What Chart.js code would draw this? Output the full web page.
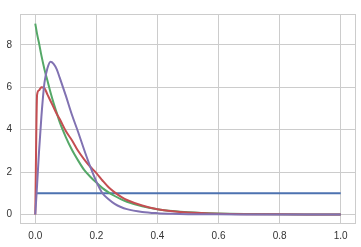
<!DOCTYPE html>
<html>
<head>
<meta charset="utf-8">
<script src="https://cdn.jsdelivr.net/npm/chart.js@4"></script>
<style>
  html, body { margin: 0; padding: 0; background: #fff; }
  canvas { display: block; }
</style>
</head>
<body>
<canvas id="chart" width="361" height="247"></canvas>
<script>
const xs = [0, 0.006, 0.012, 0.02, 0.03, 0.04, 0.05, 0.06, 0.07, 0.08, 0.1, 0.12, 0.14, 0.16, 0.18,
  0.2, 0.22, 0.24, 0.26, 0.28, 0.3, 0.35, 0.4, 0.45, 0.5, 0.6, 0.7, 0.8, 0.9, 1.0];

const blue = [1, 1, 1, 1, 1, 1, 1, 1, 1, 1, 1, 1, 1, 1, 1,
  1, 1, 1, 1, 1, 1, 1, 1, 1, 1, 1, 1, 1, 1, 1];
const green = [9.0, 8.5, 8.1, 7.5, 6.85, 6.3, 5.75, 5.25, 4.8, 4.35, 3.65, 3.05, 2.55, 2.1, 1.78,
  1.5, 1.24, 1.04, 0.87, 0.72, 0.6, 0.39, 0.25, 0.16, 0.1, 0.04, 0.017, 0.007, 0.003, 0.001];
const red = [0, 5.65, 5.85, 6.0, 5.95, 5.65, 5.35, 5.05, 4.75, 4.5, 3.93, 3.5, 3.0, 2.6, 2.25,
  1.95, 1.6, 1.28, 1.04, 0.84, 0.68, 0.42, 0.25, 0.15, 0.09, 0.035, 0.013, 0.005, 0.002, 0.001];
const purple = [0, 1.4, 2.9, 4.6, 6.2, 6.9, 7.2, 7.1, 6.85, 6.45, 5.6, 4.7, 3.9, 3.05, 2.25,
  1.55, 1.0, 0.72, 0.5, 0.35, 0.25, 0.12, 0.06, 0.03, 0.015, 0.004, 0.001, 0, 0, 0];

const xTicks = [0, 0.2, 0.4, 0.6, 0.8, 1.0];
const yTicks = [0, 2, 4, 6, 8];

const pts = ys => xs.map((x, i) => ({ x: x, y: ys[i] }));

const line = (data, color, order) => ({
  data: pts(data),
  borderColor: color,
  borderWidth: 2,
  pointRadius: 0,
  fill: false,
  cubicInterpolationMode: 'monotone',
  order: order
});

// light grey frame round the plot, like seaborn's whitegrid spines
const frame = {
  id: 'frame',
  beforeDatasetsDraw(chart) {
    const a = chart.chartArea, c = chart.ctx;
    c.save();
    c.strokeStyle = '#cccccc';
    c.lineWidth = 1;
    c.strokeRect(Math.round(a.left) + 0.5, Math.round(a.top) + 0.5,
      Math.round(a.right - a.left) - 1, Math.round(a.bottom - a.top) - 1);
    c.restore();
  }
};

const tickFont = { family: 'Liberation Sans, Arial, sans-serif', size: 10 };

new Chart(document.getElementById('chart').getContext('2d'), {
  type: 'line',
  data: {
    datasets: [
      line(blue, '#4c72b0', 4),
      line(green, '#55a868', 3),
      line(red, '#c44e52', 2),
      line(purple, '#8172b2', 1)
    ]
  },
  options: {
    responsive: false,
    animation: false,
    layout: { padding: { top: 6, right: 5, left: 0, bottom: 0 } },
    plugins: { legend: { display: false }, tooltip: { enabled: false } },
    scales: {
      x: {
        type: 'linear',
        min: -0.05,
        max: 1.05,
        afterBuildTicks: s => { s.ticks = xTicks.map(v => ({ value: v })); },
        afterFit: s => { s.height = 23; },
        ticks: {
          color: '#333333',
          font: tickFont,
          padding: 6,
          maxRotation: 0,
          callback: v => v.toFixed(1)
        },
        grid: { color: '#cccccc', lineWidth: 1, drawTicks: false },
        border: { display: false }
      },
      y: {
        min: -0.45,
        max: 9.45,
        afterBuildTicks: s => { s.ticks = yTicks.map(v => ({ value: v })); },
        afterFit: s => { s.width = 20; },
        ticks: {
          color: '#333333',
          font: tickFont,
          padding: 8,
          callback: v => String(v)
        },
        grid: { color: '#cccccc', lineWidth: 1, drawTicks: false },
        border: { display: false }
      }
    }
  },
  plugins: [frame]
});
</script>
</body>
</html>
